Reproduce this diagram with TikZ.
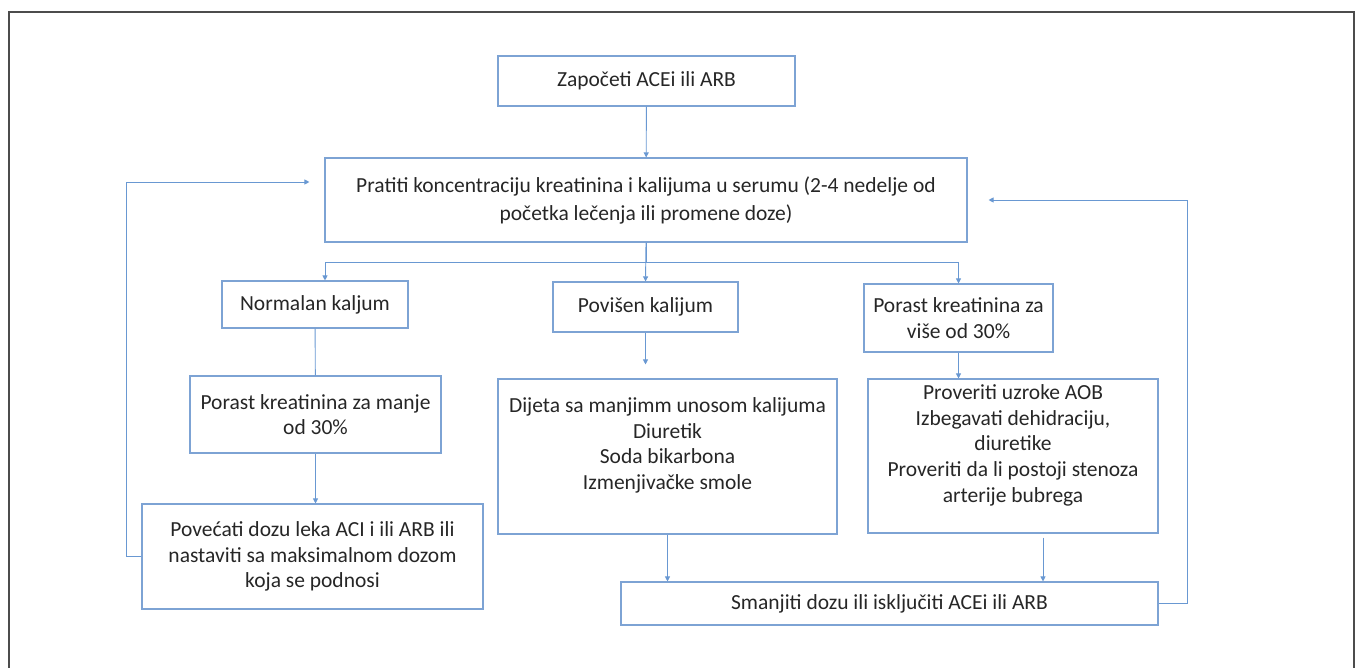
\documentclass[tikz,border=0pt]{standalone}
\usepackage{fontspec}
\setmainfont{Carlito}
\usetikzlibrary{arrows.meta}
\definecolor{boxblue}{RGB}{125,163,212}
\definecolor{lineblue}{RGB}{105,152,210}
\definecolor{txtgray}{RGB}{38,38,38}

\begin{document}
\begin{tikzpicture}[x=1pt,y=-1pt]
  \tikzset{box/.style = {shape=rectangle,draw=boxblue,line width=1.1pt,text=txtgray,align=center,inner sep=2pt,font=\fontsize{21.5}{25.7}\selectfont}}
  \tikzset{edge/.style = {draw=lineblue,line width=0.9pt,-{Triangle[length=5pt,width=5pt]}}}
  \tikzset{plain/.style = {draw=lineblue,line width=0.9pt}}

  \useasboundingbox (0,0) rectangle (1357,668);
  % frame, open at the bottom
  \draw[line width=1.3pt,black!70] (9,668) -- (9,12) -- (1354,12) -- (1354,668);

	\node[box,minimum width=297pt,minimum height=50pt] (start) at (646.5,81) {Započeti ACEi ili ARB};
	\node[box,minimum width=642pt,minimum height=84pt,font=\fontsize{21.5}{28}\selectfont] (monitor) at (646,200) {Pratiti koncentraciju kreatinina i kalijuma u serumu (2-4 nedelje od\\početka lečenja ili promene doze)};

	\node[box,minimum width=186pt,minimum height=47pt] (normal) at (315,304.5) {Normalan kaljum};
	\node[box,minimum width=185pt,minimum height=50pt] (povisen) at (645.5,307) {Povišen kalijum};
	\node[box,minimum width=189pt,minimum height=68pt] (visi) at (958.5,318) {Porast kreatinina za\\više od 30\%};

	\node[box,minimum width=251pt,minimum height=77pt] (manje) at (315.5,414.5) {Porast kreatinina za manje\\od 30\%};
	\node[box,minimum width=339pt,minimum height=155pt,text depth=26pt] (dijeta) at (667.5,456.5) {Dijeta sa manjimm unosom kalijuma\\Diuretik\\Soda bikarbona\\Izmenjivačke smole};
	\node[box,minimum width=290pt,minimum height=154pt,text depth=25pt] (uzroci) at (1013,456) {Proveriti uzroke AOB\\Izbegavati dehidraciju,\\diuretike\\Proveriti da li postoji stenoza\\arterije bubrega};

	\node[box,minimum width=341pt,minimum height=105pt] (povecati) at (312.5,556.5) {Povećati dozu leka ACI i ili ARB ili\\nastaviti sa maksimalnom dozom\\koja se podnosi};
	\node[box,minimum width=537pt,minimum height=43pt] (smanjiti) at (889.5,603.5) {Smanjiti dozu ili isključiti ACEi ili ARB};

	\path[edge] (start) -- (monitor);
	\path[edge] (monitor.south) -- (povisen.north);
	\path[edge] (monitor.south) -- ++(0,20) -| ([xshift=10pt]normal.north);
	\path[edge] (monitor.south) -- ++(0,20) -| (visi.north);
	\path[plain] (normal) -- (manje);
	\path[edge] (povisen.south) -- ([yshift=14pt]povisen.south |- dijeta.north);

	\foreach \from/\to in {manje/povecati, visi/uzroci, dijeta/smanjiti}
    \path[edge] (\from.south) -- (\from.south |- \to.north);
	\path[edge] ([xshift=30pt,yshift=-4pt]uzroci.south) -- ([xshift=30pt]uzroci.south |- smanjiti.north);

  % loops back to monitoring
	\path[edge] (povecati.west) -- ++(-15,0) |- ([xshift=-15pt,yshift=18pt]monitor.west);
	\path[edge] (smanjiti.east) -- ++(29,0) |- ([xshift=21pt]monitor.east);
\end{tikzpicture}
\end{document}
